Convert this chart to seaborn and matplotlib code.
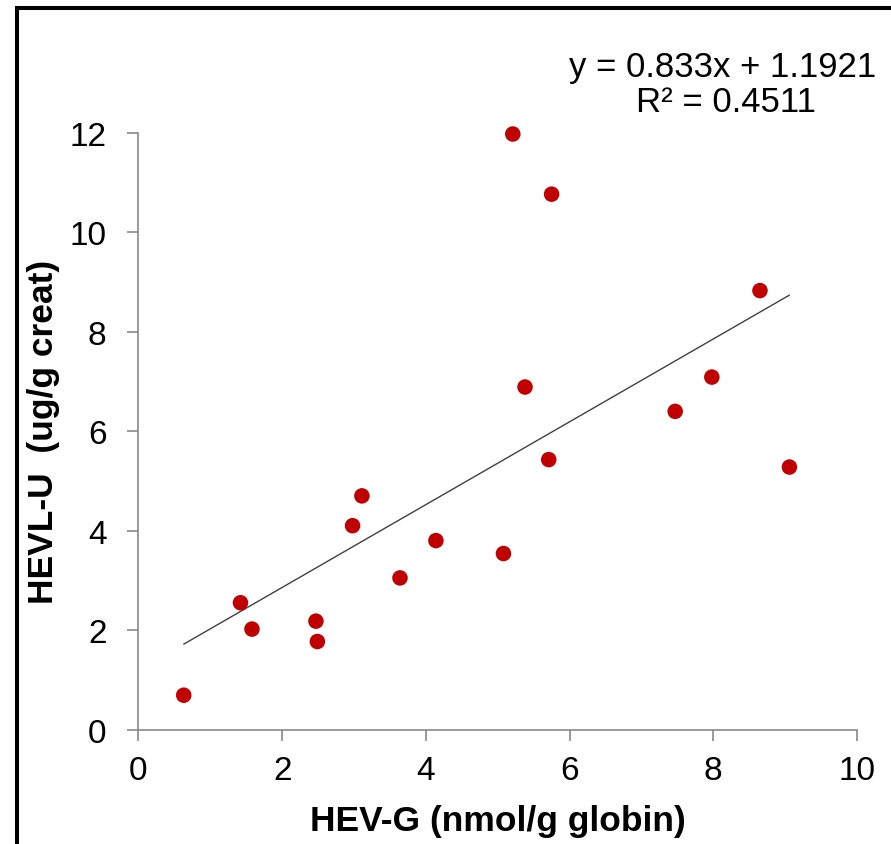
import matplotlib
matplotlib.use("Agg")
import matplotlib.pyplot as plt
import seaborn as sns
import pandas as pd
from matplotlib.patches import Rectangle

# ---------------------------------------------------------
# Daten
# ---------------------------------------------------------
hev_g = [0.63, 1.42, 1.58, 2.47, 2.49, 2.98, 3.11, 3.64, 4.14, 5.08,
         5.21, 5.38, 5.71, 5.75, 7.47, 7.98, 8.65, 9.06]
hevl_u = [0.69, 2.55, 2.02, 2.18, 1.77, 4.10, 4.70, 3.05, 3.80, 3.54,
          11.98, 6.89, 5.43, 10.77, 6.40, 7.09, 8.83, 5.28]

slope = 0.833
intercept = 1.1921
r2 = 0.4511

x_ticks = [0, 2, 4, 6, 8, 10]
y_ticks = [0, 2, 4, 6, 8, 10, 12]

df = pd.DataFrame({"x": hev_g, "y": hevl_u})

# ---------------------------------------------------------
# Plot
# ---------------------------------------------------------
sns.set_theme(style="white")
plt.rcParams["font.family"] = ["Liberation Sans", "DejaVu Sans"]
plt.rcParams["text.color"] = "black"
plt.rcParams["axes.labelcolor"] = "black"

fig = plt.figure(figsize=(8.91, 8.45), dpi=100)
ax = fig.add_axes([0.1554, 0.1355, 0.8064, 0.7059])

# Trendlinie
x_min, x_max = df["x"].min(), df["x"].max()
trend = pd.DataFrame({"x": [x_min, x_max]})
trend["y"] = slope * trend["x"] + intercept
sns.lineplot(data=trend, x="x", y="y", ax=ax, color="#404040", linewidth=1.0, zorder=2)

sns.scatterplot(data=df, x="x", y="y", ax=ax, color="#C00000", s=125,
                edgecolor="none", zorder=3, clip_on=False)

ax.set_xlim(0, 10)
ax.set_ylim(0, 12)
ax.set_xticks(x_ticks)
ax.set_yticks(y_ticks)
ax.tick_params(axis="both", labelsize=24, colors="#898989", labelcolor="black",
               direction="out", length=8, width=1.2, bottom=True, left=True)
ax.tick_params(axis="x", pad=10)
ax.tick_params(axis="y", pad=15)

sns.despine(ax=ax)
for side in ["left", "bottom"]:
    ax.spines[side].set_color("#898989")
    ax.spines[side].set_linewidth(1.2)

ax.set_xlabel("HEV-G (nmol/g globin)", fontsize=25.5, fontweight="bold", labelpad=13)
ax.set_ylabel("HEVL-U  (ug/g creat)", fontsize=25.5, fontweight="bold", labelpad=7)

fig.text(723 / 891, 1 - 68 / 845, "y = 0.833x + 1.1921",
         ha="center", va="center", fontsize=25)
fig.text(726 / 891, 1 - 103 / 845, "R² = %.4f" % r2,
         ha="center", va="center", fontsize=25)

# Rahmen
fig.patches.append(Rectangle((17 / 891, -0.05), 1.1, 1 - 9 / 845 + 0.05,
                             transform=fig.transFigure, fill=False,
                             edgecolor="black", linewidth=2.9))

plt.savefig("out.png", dpi=100)
